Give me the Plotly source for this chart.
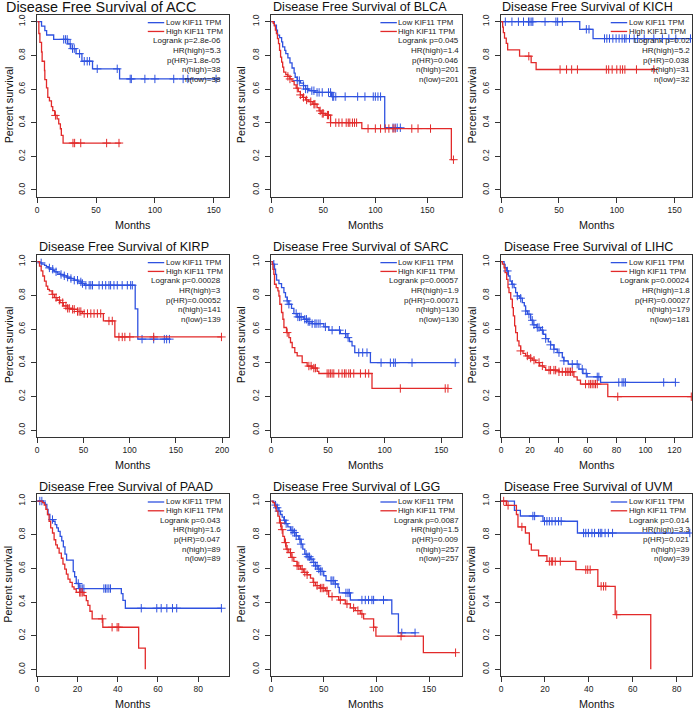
import numpy as np
import plotly.graph_objects as go

# ---------------- data ----------------
# ACC
ACC_low_t = [3.7, 6.5, 8, 14, 26, 28.5, 33, 38, 47, 70]
ACC_low_s = [0.974, 0.947, 0.921, 0.895, 0.868, 0.84, 0.81, 0.765, 0.72, 0.66]
ACC_low_c = [22.5, 24, 25.5, 28, 30, 31.5, 36, 40, 42.5, 44.5, 51, 68, 79, 80, 91.5, 100, 116, 124, 128, 152]
ACC_low_end = 155
ACC_high_t = [1.4, 2.3, 3.7, 4.2, 6.2, 6.5, 7.9, 9.0, 10.4, 12.1, 13.2, 14.9, 16.9, 18.3, 19.7, 20.5, 22]
ACC_high_s = [0.93, 0.877, 0.82, 0.765, 0.71, 0.656, 0.607, 0.55, 0.53, 0.496, 0.472, 0.443, 0.423, 0.393, 0.364, 0.324, 0.279]
ACC_high_c = [15.5, 30.4, 31.8, 37, 59, 69.5]
ACC_high_end = 71
ACC_stats = ["Logrank p=2.8e-06", "HR(high)=5.3", "p(HR)=1.8e-05", "n(high)=38", "n(low)=38"]

# BLCA
BLCA_low_t = [3, 5, 6, 8, 10, 11, 13, 14, 16, 18, 20, 22, 23, 25, 28, 31, 33, 36, 42, 58, 109]
BLCA_low_s = [0.98, 0.95, 0.92, 0.905, 0.88, 0.85, 0.83, 0.81, 0.785, 0.755, 0.725, 0.695, 0.67, 0.65, 0.635,
              0.62, 0.60, 0.59, 0.58, 0.555, 0.37]
BLCA_low_c = [25, 27, 31, 33, 35, 39, 41, 44, 46, 49, 55, 57, 59, 60, 62, 71, 83, 90, 98, 100, 102.5, 105,
              117, 119, 121, 124]
BLCA_low_end = 124
BLCA_high_t = [2, 3, 4, 5, 6, 7, 8, 9, 10, 11, 12, 14, 16, 18, 20, 22, 24, 26, 28, 30, 33, 36, 40, 44, 46, 48,
               52, 57, 87, 173]
BLCA_high_s = [0.99, 0.975, 0.95, 0.93, 0.90, 0.87, 0.83, 0.79, 0.76, 0.73, 0.70, 0.685, 0.675, 0.66, 0.645,
               0.625, 0.605, 0.585, 0.565, 0.55, 0.535, 0.525, 0.51, 0.49, 0.47, 0.455, 0.445, 0.40, 0.365, 0.18]
BLCA_high_c = [16, 18, 25, 28, 31, 34, 38, 41, 42, 47, 49, 50, 54, 55, 57, 62, 65, 68, 72, 74, 75.5, 78, 80, 82,
               93, 100, 105, 109.5, 113, 117, 119, 135, 141, 153, 175]
BLCA_high_end = 176
BLCA_stats = ["Logrank p=0.045", "HR(high)=1.4", "p(HR)=0.046", "n(high)=201", "n(low)=201"]

# KICH
KICH_low_t = [68, 79.5]
KICH_low_s = [0.955, 0.90]
KICH_low_c = [3.7, 9.4, 15, 19.4, 23.7, 25, 26.6, 27.5, 38, 47.4, 48.9, 53, 73.7, 76, 89.4, 91.4, 93.7, 96.6,
              99.4, 102, 104.6, 106.6, 108, 111, 115, 118, 123.7, 132, 139.4, 145, 151, 163.7]
KICH_low_end = 163.7
KICH_high_t = [1.4, 2, 3, 4.5, 5.7, 16, 26, 30.3]
KICH_high_s = [0.968, 0.935, 0.903, 0.871, 0.833, 0.795, 0.757, 0.716]
KICH_high_c = [24, 51, 56.6, 61, 66, 91, 93, 96, 100, 103, 105, 107, 117, 132]
KICH_high_end = 132
KICH_stats = ["Logrank p=0.02", "HR(high)=5.2", "p(HR)=0.038", "n(high)=31", "n(low)=32"]

# KIRP
KIRP_low_t = [3, 5, 8, 10, 12, 14, 17, 19, 22, 25, 28, 32, 36, 40, 44, 48, 51, 106, 108.8]
KIRP_low_s = [0.993, 0.986, 0.978, 0.97, 0.963, 0.955, 0.947, 0.94, 0.932, 0.924, 0.916, 0.908, 0.90, 0.89,
              0.88, 0.87, 0.86, 0.72, 0.54]
KIRP_low_c = [4.3, 13.2, 16.8, 20.4, 25.8, 29.3, 32.9, 36.5, 40.1, 43.6, 47.2, 49, 52.6, 56.2, 58, 59.8, 66.9,
              70.5, 74.1, 77.6, 79.4, 83, 86.6, 91.9, 97.5, 101.1, 102.9, 113.4, 126, 137.5, 140, 143]
KIRP_low_end = 144
KIRP_high_t = [2.5, 4.3, 6.1, 7.9, 9.7, 11.4, 13.2, 16.1, 18.6, 21.5, 24.7, 28.3, 32.9, 38.3, 43.6, 49, 71.6, 84]
KIRP_high_s = [0.974, 0.945, 0.915, 0.885, 0.855, 0.836, 0.826, 0.806, 0.787, 0.771, 0.757, 0.737, 0.723, 0.717,
               0.704, 0.692, 0.648, 0.553]
KIRP_high_c = [16.8, 20.4, 24, 27.6, 31.1, 32.9, 34.7, 38.3, 40.1, 43.6, 45.4, 47.2, 50.8, 54.4, 58, 61.5, 65.1,
               68.7, 77.6, 81.2, 88.4, 92, 94.8, 100.2, 126, 199.3]
KIRP_high_end = 200
KIRP_stats = ["Logrank p=0.00028", "HR(high)=3", "p(HR)=0.00052", "n(high)=141", "n(low)=139"]

# SARC
SARC_low_t = [1.5, 2.9, 3.8, 4.7, 6.8, 9.1, 11.2, 12.6, 14.1, 15.6, 17.9, 20, 22.9, 28.8, 31.7, 36.1, 46.4, 50.8,
              61, 66.9, 69, 71.3, 73.7, 87.5]
SARC_low_s = [0.985, 0.955, 0.925, 0.89, 0.87, 0.846, 0.816, 0.79, 0.767, 0.747, 0.723, 0.692, 0.672, 0.658,
              0.644, 0.632, 0.613, 0.593, 0.573, 0.549, 0.526, 0.5, 0.46, 0.40]
SARC_low_c = [2.3, 14.1, 15.6, 22, 23.5, 25, 26.4, 29.6, 31.1, 32.6, 34, 36.1, 38.5, 39.6, 41.4, 43.1, 47.8, 53.7,
              60.2, 65.5, 67.8, 77.2, 80.7, 84.5, 96.9, 105.1, 108, 109.5, 124.2, 162.3]
SARC_low_end = 163.8
SARC_high_t = [0.9, 1.5, 2.3, 2.9, 4.4, 5.9, 6.8, 7.6, 9.1, 10.3, 11.2, 13.5, 15.6, 17, 18.5, 20.8, 22.9, 27.3,
               31.7, 36.1, 40.5, 42, 88.9]
SARC_high_s = [0.984, 0.955, 0.925, 0.866, 0.846, 0.826, 0.796, 0.747, 0.698, 0.658, 0.609, 0.579, 0.549, 0.52,
               0.49, 0.46, 0.44, 0.40, 0.38, 0.368, 0.348, 0.336, 0.247]
SARC_high_c = [14.1, 33.2, 35.2, 37.6, 39, 49.3, 50.8, 52.2, 53.7, 55.2, 59.6, 62.5, 64.6, 66, 68.4, 69.9, 72.8,
               78.7, 83.1, 86, 113.9, 153.5, 155.9]
SARC_high_end = 156.4
SARC_stats = ["Logrank p=0.00057", "HR(high)=1.9", "p(HR)=0.00071", "n(high)=130", "n(low)=130"]

# LIHC
LIHC_low_t = [2.1, 2.8, 3.9, 5.1, 6.2, 7.4, 9, 10.1, 11.3, 12.9, 14.7, 16.1, 17, 18.2, 20.5, 22.1, 24.4, 27.4,
              29.2, 30.9, 32.7, 34.3, 36.6, 38.9, 42.4, 43.5, 46.5, 53.9, 56.7, 59.6, 68.9]
LIHC_low_s = [0.984, 0.964, 0.945, 0.915, 0.885, 0.866, 0.846, 0.816, 0.796, 0.783, 0.757, 0.737, 0.707, 0.688,
              0.652, 0.625, 0.609, 0.593, 0.569, 0.543, 0.524, 0.506, 0.48, 0.46, 0.431, 0.411, 0.391, 0.362,
              0.336, 0.316, 0.283]
LIHC_low_c = [4.4, 7.8, 11.3, 13.6, 17, 19.3, 21.6, 22.8, 25.1, 26.3, 28.6, 30.9, 34.3, 36.6, 40.1, 43.5, 49.3,
              52.7, 56.2, 59, 66.6, 67.7, 81.5, 83.8, 85, 86.1, 112.6, 120.7]
LIHC_low_end = 120.7
LIHC_high_t = [0.9, 2.1, 2.8, 3.9, 4.8, 5.5, 6.7, 7.8, 8.5, 9.4, 10.1, 11.3, 12.4, 13.6, 15.2, 17, 19.3, 21.6,
               24, 26.7, 29.7, 30.9, 40.1, 50.4, 52.7, 55, 73.9]
LIHC_high_s = [0.985, 0.964, 0.935, 0.895, 0.846, 0.816, 0.777, 0.727, 0.678, 0.619, 0.579, 0.53, 0.5, 0.47,
               0.455, 0.44, 0.427, 0.415, 0.401, 0.381, 0.372, 0.356, 0.346, 0.316, 0.296, 0.273, 0.198]
LIHC_high_c = [13.6, 18.2, 20.5, 22.8, 26.3, 28.6, 33.2, 34.3, 36.6, 37.8, 40.1, 42.4, 44.7, 45.8, 47, 48.1,
               49.3, 58.5, 60.8, 62, 63.1, 64.3, 65.4, 66.6, 80.8, 131.7]
LIHC_high_end = 131.7
LIHC_stats = ["Logrank p=0.00024", "HR(high)=1.8", "p(HR)=0.00027", "n(high)=179", "n(low)=181"]

# PAAD
PAAD_low_t = [3, 4, 4.8, 5.4, 6.3, 7.9, 8.9, 9.7, 10.5, 11.4, 12.2, 13, 13.8, 14.6, 17.9, 18.6, 19.4, 20.7,
              41.8, 42.6, 43.8]
PAAD_low_s = [0.99, 0.98, 0.95, 0.92, 0.89, 0.88, 0.86, 0.84, 0.82, 0.79, 0.763, 0.728, 0.684, 0.649, 0.58,
              0.55, 0.51, 0.48, 0.45, 0.41, 0.363]
PAAD_low_c = [1.3, 2.3, 7.6, 20.4, 21.1, 21.7, 22.4, 23.2, 33.1, 33.9, 34.7, 35.6, 36.4, 51.7, 59.4, 61.6, 64.4,
              67.2, 69.3, 91.5]
PAAD_low_end = 91.5
PAAD_high_t = [2.6, 3.5, 4.3, 5.1, 5.9, 6.7, 7.6, 8.4, 9.2, 10, 10.9, 12, 12.8, 13.7, 14.5, 15.3, 16.3, 17.4,
               18.3, 19.4, 23.2, 24.4, 25.2, 26.2, 27.3, 32.6, 50.4, 53.7]
PAAD_high_s = [0.99, 0.976, 0.95, 0.92, 0.88, 0.84, 0.81, 0.77, 0.74, 0.72, 0.69, 0.66, 0.625, 0.595, 0.566,
               0.536, 0.517, 0.49, 0.477, 0.457, 0.438, 0.408, 0.38, 0.345, 0.30, 0.25, 0.126, 0.0]
PAAD_high_c = [21.1, 21.7, 22.4, 32.3, 37.2, 39.7, 40.5]
PAAD_high_end = 53.7
PAAD_stats = ["Logrank p=0.043", "HR(high)=1.6", "p(HR)=0.047", "n(high)=89", "n(low)=89"]

# LGG
LGG_low_t = [2.5, 4.1, 5.7, 7.3, 8.8, 10.4, 12, 13.6, 15.8, 18.3, 20.8, 23.7, 26.2, 28.4, 30, 31.9, 34.1, 37.3,
             39.8, 42, 44.5, 46.7, 49.9, 52.1, 60.9, 63.5, 64.7, 75.2, 114.6, 120.9]
LGG_low_s = [0.99, 0.976, 0.96, 0.94, 0.92, 0.905, 0.886, 0.866, 0.846, 0.826, 0.813, 0.793, 0.773, 0.744,
             0.714, 0.684, 0.669, 0.655, 0.635, 0.615, 0.596, 0.582, 0.556, 0.527, 0.507, 0.487, 0.454, 0.412,
             0.33, 0.217]
LGG_low_c = [4.1, 5.7, 7.3, 12.6, 14.2, 18.9, 20.5, 22.1, 23.7, 27.2, 28.4, 33.2, 35, 36.3, 37.9, 40.4, 42,
             43.6, 45.2, 46.7, 48.3, 56.8, 57.8, 59.4, 60.9, 71, 72.9, 74.2, 86.2, 89.4, 92.5, 95.7, 97.3, 106.7,
             124.1, 136.7]
LGG_low_end = 137.4
LGG_high_t = [1.6, 3.2, 4.7, 6.3, 7.9, 9.5, 11.1, 12.6, 14.2, 16.7, 18.9, 21.5, 24.6, 27.8, 30.9, 34.1, 37.3,
              39.8, 42, 46.7, 51.5, 54.6, 64.1, 70.4, 75.2, 79.9, 84.6, 87.8, 97.3, 99.5, 144.6]
LGG_high_s = [0.99, 0.97, 0.94, 0.91, 0.87, 0.83, 0.79, 0.753, 0.714, 0.694, 0.665, 0.641, 0.615, 0.596, 0.576,
              0.562, 0.542, 0.517, 0.497, 0.483, 0.467, 0.432, 0.412, 0.389, 0.365, 0.349, 0.329, 0.30, 0.25,
              0.197, 0.099]
LGG_high_c = [8.8, 10.4, 13.6, 15.2, 18.3, 19.9, 24.6, 26.2, 29.4, 31.9, 34.1, 40.4, 43.6, 46.7, 48.3, 49.9, 53,
              57.8, 65.7, 72, 78.3, 82.4, 86.2, 97.3, 123.4, 175.2]
LGG_high_end = 175.2
LGG_stats = ["Logrank p=0.0087", "HR(high)=1.5", "p(HR)=0.009", "n(high)=257", "n(low)=257"]

# UVM
UVM_low_t = [6.1, 8.8, 19.1, 34.8]
UVM_low_s = [0.945, 0.911, 0.88, 0.81]
UVM_low_c = [14.5, 15.3, 19.8, 20.9, 22, 23.2, 24.7, 26.2, 27.4, 37.6, 38.6, 39.8, 41.4, 42.6, 44.4, 45.2, 45.9,
             47.4, 48.9, 50.8, 86]
UVM_low_end = 86
UVM_high_t = [2.4, 7, 7.7, 11.1, 12.9, 13.8, 17.1, 20.9, 34.1, 44.1, 52, 68.2]
UVM_high_s = [0.974, 0.92, 0.846, 0.81, 0.744, 0.708, 0.675, 0.641, 0.592, 0.493, 0.325, 0.0]
UVM_high_c = [1.2, 3.2, 9.5, 22, 22.9, 23.5, 24.7, 27, 38.6, 39.5, 40.6, 45.6, 46.7, 47.7, 52.7]
UVM_high_end = 68.2
UVM_stats = ["Logrank p=0.014", "HR(high)=3.3", "p(HR)=0.021", "n(high)=39", "n(low)=39"]

Y_TICKS = [0.0, 0.2, 0.4, 0.6, 0.8, 1.0]
LEGEND_LABELS = ["Low KIF11 TPM", "High KIF11 TPM"]

# ---------------- layout configuration ----------------
W, H = 693, 712
FONT = "Liberation Sans, Arial, Helvetica, sans-serif"
BLUE = "#2f52e0"
RED = "#e22a2a"
AXC = "#333333"
COLS = [(35.3, 227.7), (270.0, 461.0), (500.5, 692.0)]
ROWS = [(14.0, 196.0), (254.3, 436.4), (494.0, 676.0)]
TITLE_Y = [6.5, 246.5, 487.0]
YLAB_X = [6.5, 240.0, 471.0]
STAT_OFF = [7.0, 2.0, 1.0]
LEG_OFF = [7.7, 16.5, 25.9, 35.6, 45.3, 55.0, 64.6]

panels = [
    ("ACC", (ACC_low_t, ACC_low_s, ACC_low_c, ACC_low_end), (ACC_high_t, ACC_high_s, ACC_high_c, ACC_high_end), ACC_stats, 163, 50, 2.0, 14.4),
    ("BLCA", (BLCA_low_t, BLCA_low_s, BLCA_low_c, BLCA_low_end), (BLCA_high_t, BLCA_high_s, BLCA_high_c, BLCA_high_end), BLCA_stats, 182.9, 50, 270.0, 12.6),
    ("KICH", (KICH_low_t, KICH_low_s, KICH_low_c, KICH_low_end), (KICH_high_t, KICH_high_s, KICH_high_c, KICH_high_end), KICH_stats, 165, 50, 499.5, 12.6),
    ("KIRP", (KIRP_low_t, KIRP_low_s, KIRP_low_c, KIRP_low_end), (KIRP_high_t, KIRP_high_s, KIRP_high_c, KIRP_high_end), KIRP_stats, 207.5, 50, 35.0, 12.6),
    ("SARC", (SARC_low_t, SARC_low_s, SARC_low_c, SARC_low_end), (SARC_high_t, SARC_high_s, SARC_high_c, SARC_high_end), SARC_stats, 168, 50, 270.0, 12.6),
    ("LIHC", (LIHC_low_t, LIHC_low_s, LIHC_low_c, LIHC_low_end), (LIHC_high_t, LIHC_high_s, LIHC_high_c, LIHC_high_end), LIHC_stats, 132.2, 20, 501.0, 12.6),
    ("PAAD", (PAAD_low_t, PAAD_low_s, PAAD_low_c, PAAD_low_end), (PAAD_high_t, PAAD_high_s, PAAD_high_c, PAAD_high_end), PAAD_stats, 95.3, 20, 35.0, 12.6),
    ("LGG", (LGG_low_t, LGG_low_s, LGG_low_c, LGG_low_end), (LGG_high_t, LGG_high_s, LGG_high_c, LGG_high_end), LGG_stats, 181, 50, 270.0, 12.6),
    ("UVM", (UVM_low_t, UVM_low_s, UVM_low_c, UVM_low_end), (UVM_high_t, UVM_high_s, UVM_high_c, UVM_high_end), UVM_stats, 87, 20, 501.0, 12.6),
]


def px_x(p):
    return p / W


def px_y(p):
    return 1 - p / H


def surv_at(t_ev, s_ev, c):
    idx = int(np.searchsorted(np.asarray(t_ev, float), c, side="right"))
    return 1.0 if idx == 0 else s_ev[idx - 1]


fig = go.Figure()
layout = dict(width=W, height=H, margin=dict(l=0, r=0, t=0, b=0), autosize=False,
              paper_bgcolor="white", plot_bgcolor="white", showlegend=False,
              font=dict(family=FONT, color="#222"))
annotations = []
shapes = []

for i, (name, low, high, stats, xmax, dt, title_left, title_size) in enumerate(panels):
    r, c = divmod(i, 3)
    xl, xr = COLS[c]
    yt, yb = ROWS[r]
    sfx = "" if i == 0 else str(i + 1)
    xref, yref = "x" + sfx, "y" + sfx

    for (t_ev, s_ev, cens, end), col in ((low, BLUE), (high, RED)):
        xs = [0.0] + list(t_ev) + [end]
        ys = [1.0] + list(s_ev) + [s_ev[-1]]
        fig.add_trace(go.Scatter(x=xs, y=ys, mode="lines", line=dict(color=col, width=1.3, shape="hv"),
                                 xaxis=xref, yaxis=yref, hoverinfo="skip"))
        cy = [surv_at(t_ev, s_ev, cc) for cc in cens]
        fig.add_trace(go.Scatter(x=cens, y=cy, mode="markers",
                                 marker=dict(symbol="cross-thin", size=6, color=col,
                                             line=dict(color=col, width=1)),
                                 xaxis=xref, yaxis=yref, hoverinfo="skip"))

    layout["xaxis" + sfx] = dict(domain=[px_x(xl), px_x(xr)], range=[0, xmax], anchor=yref,
                                 tick0=0, dtick=dt, ticks="outside", ticklen=5, tickwidth=1, tickcolor=AXC,
                                 showline=True, mirror=True, linecolor=AXC, linewidth=1,
                                 showgrid=False, zeroline=False,
                                 tickfont=dict(size=8.5, color="#222", family=FONT))
    layout["yaxis" + sfx] = dict(domain=[px_y(yb), px_y(yt)], range=[-0.04, 1.04], anchor=xref,
                                 tickvals=Y_TICKS, ticktext=["%.1f" % v for v in Y_TICKS], tickangle=-90,
                                 ticks="outside", ticklen=5, tickwidth=1, tickcolor=AXC,
                                 ticklabelstandoff=3,
                                 showline=True, mirror=True, linecolor=AXC, linewidth=1,
                                 showgrid=False, zeroline=False,
                                 tickfont=dict(size=8.5, color="#222", family=FONT))

    # title
    annotations.append(dict(text="Disease Free Survival of " + name, x=px_x(title_left), y=px_y(TITLE_Y[r]),
                            xref="paper", yref="paper", xanchor="left", yanchor="middle", showarrow=False,
                            font=dict(size=title_size, color="#111", family=FONT)))
    # axis titles
    annotations.append(dict(text="Percent survival", x=px_x(YLAB_X[c]), y=px_y((yt + yb) / 2 - 1),
                            xref="paper", yref="paper", xanchor="center", yanchor="middle", showarrow=False,
                            textangle=-90, font=dict(size=10.8, color="#111", family=FONT)))
    annotations.append(dict(text="Months", x=px_x((xl + xr) / 2), y=px_y(yb + 28),
                            xref="paper", yref="paper", xanchor="center", yanchor="middle", showarrow=False,
                            font=dict(size=10.8, color="#111", family=FONT)))
    # legend
    for k, (lab, col) in enumerate(zip(LEGEND_LABELS, (BLUE, RED))):
        yy = px_y(yt + LEG_OFF[k])
        shapes.append(dict(type="line", xref="paper", yref="paper", x0=px_x(xr - 81.5), x1=px_x(xr - 65),
                           y0=yy, y1=yy, line=dict(color=col, width=1.3)))
        annotations.append(dict(text=lab, x=px_x(xr - 64.5), y=yy, xref="paper", yref="paper",
                                xanchor="left", yanchor="middle", showarrow=False, borderpad=0,
                                font=dict(size=7.8, color="#222", family=FONT)))
    for k, st in enumerate(stats):
        annotations.append(dict(text=st, x=px_x(xr - STAT_OFF[c]), y=px_y(yt + LEG_OFF[k + 2]),
                                xref="paper", yref="paper", xanchor="right", yanchor="middle", showarrow=False,
                                borderpad=0, font=dict(size=8, color="#222", family=FONT)))

layout["annotations"] = annotations
layout["shapes"] = shapes
fig.update_layout(**layout)

fig.write_html("out.html", config={"displayModeBar": False},
               post_script="document.body.style.margin='0';document.body.style.overflow='hidden';")
